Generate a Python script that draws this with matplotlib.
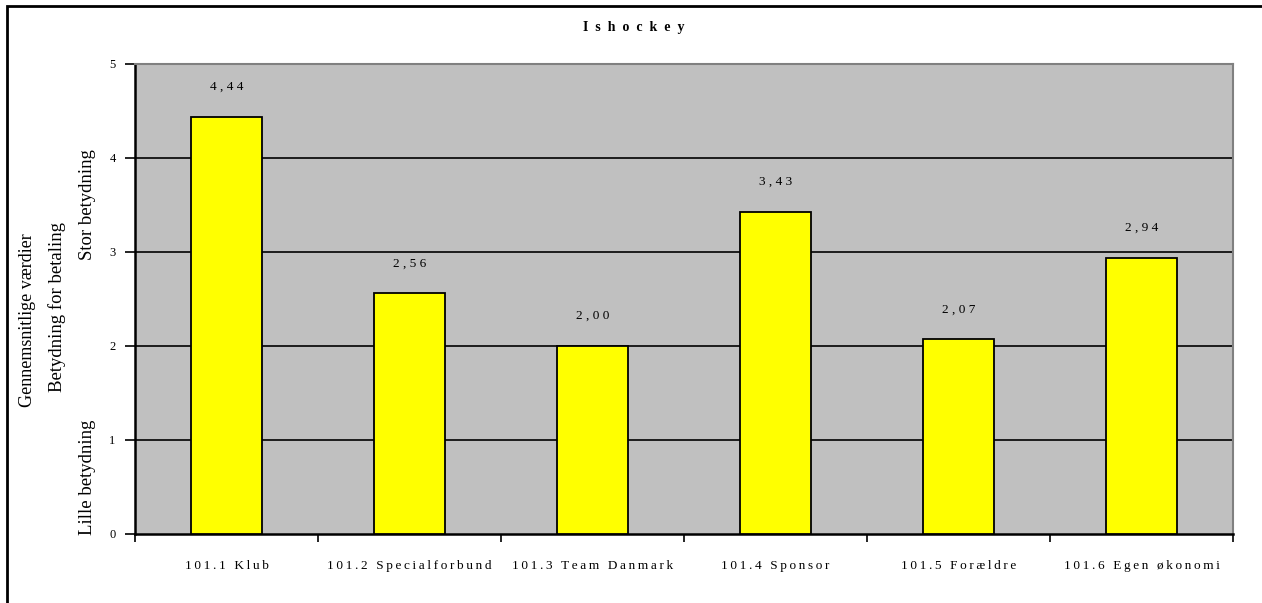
import matplotlib
matplotlib.use("Agg")
import matplotlib.pyplot as plt
from matplotlib.patches import Rectangle
import numpy as np

categories = ["101.1 Klub", "101.2 Specialforbund", "101.3 Team Danmark",
              "101.4 Sponsor", "101.5 Forældre", "101.6 Egen økonomi"]
values = [4.44, 2.56, 2.00, 3.43, 2.07, 2.94]
value_labels = ["4,44", "2,56", "2,00", "3,43", "2,07", "2,94"]
yticks = [0, 1, 2, 3, 4, 5]
title = "Ishockey"

W, H = 1262, 603
fig = plt.figure(figsize=(W / 100, H / 100), dpi=100)
plt.rcParams['font.family'] = ['Liberation Serif', 'DejaVu Serif']

def spaced(s, sep="\u2009"):
    return sep.join(list(s))

L, R, T, B = 135, 1233, 64, 534
ax = fig.add_axes([L / W, 1 - B / H, (R - L) / W, (B - T) / H])
ax.set_facecolor("#c0c0c0")
x = np.arange(len(categories))
ax.bar(x, values, width=0.39, color="#ffff00", edgecolor="black", linewidth=1.3, zorder=3)
ax.set_xlim(-0.5, len(categories) - 0.5)
ax.set_ylim(0, 5)
ax.set_yticks(yticks)
ax.set_yticklabels([str(t) for t in yticks], fontsize=9)
for t in yticks[1:-1]:
    ax.axhline(t, color="black", linewidth=1.2, zorder=2)
ax.set_xticks(np.arange(len(categories) + 1) - 0.5)
ax.set_xticklabels([])
ax.set_xticks(x, minor=True)
ax.set_xticklabels([spaced(c) for c in categories], minor=True, fontsize=9.5)
ax.tick_params(axis='x', which='minor', length=0, pad=19)
ax.tick_params(axis='x', which='major', length=6, width=1.2, direction='out')
ax.tick_params(axis='y', length=7, width=1.2, direction='out', pad=7)
ax.spines['left'].set_linewidth(1.8)
ax.spines['bottom'].set_linewidth(1.8)
ax.spines['top'].set_color("#808080")
ax.spines['right'].set_color("#808080")
ax.spines['top'].set_linewidth(1.5)
ax.spines['right'].set_linewidth(1.5)

for xi, v, lab in zip(x, values, value_labels):
    ax.annotate(" ".join(list(lab)), (xi, v), xytext=(0, 21.6), textcoords="offset points",
                ha="center", va="center", fontsize=9.5)

fig.text(634 / W, 1 - 28 / H, "  ".join(list(title)), ha="center", va="center",
         fontsize=10, fontweight="bold")

fig.text(28 / W, 1 - 320 / H, "Gennemsnitlige værdier", rotation=90, ha="center", va="center", fontsize=13)
fig.text(57 / W, 1 - 307 / H, "Betydning for betaling", rotation=90, ha="center", va="center", fontsize=13.5)
fig.text(87 / W, 1 - 205 / H, "Stor betydning", rotation=90, ha="center", va="center", fontsize=13.5)
fig.text(87 / W, 1 - 477 / H, "Lille betydning", rotation=90, ha="center", va="center", fontsize=13.5)

fig.patches.append(Rectangle((7 / W, -0.01), (W + 10) / W, 1 - 6 / H + 0.01,
                             transform=fig.transFigure, fill=False, edgecolor="black", linewidth=2))

fig.savefig("out.png", dpi=100)
